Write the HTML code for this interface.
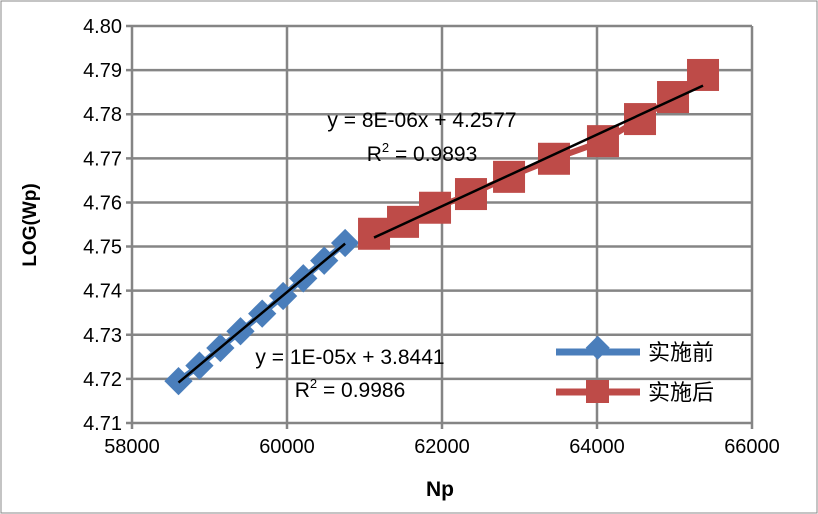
<!DOCTYPE html>
<html><head><meta charset="utf-8"><style>
body{margin:0;background:#fff;}
svg{display:block;font-family:"Liberation Sans","Noto Sans CJK SC",sans-serif;}
</style></head><body>
<svg id="chart" width="818" height="514">
<rect x="1" y="1" width="816" height="512" fill="#fff" stroke="#888"/>
<g id="grid"></g><g id="axes"></g><g id="marks"></g>
<text x="440" y="496" font-size="21" font-weight="bold" text-anchor="middle">Np</text>
<text transform="translate(36,225) rotate(-90)" font-size="19" font-weight="bold" text-anchor="middle">LOG(Wp)</text>
<text x="422" y="127" font-size="21" text-anchor="middle">y = 8E-06x + 4.2577</text>
<text x="422" y="161" font-size="21" text-anchor="middle">R<tspan font-size="13" dy="-9">2</tspan><tspan dy="9"> = 0.9893</tspan></text>
<text x="350" y="364" font-size="21" text-anchor="middle">y = 1E-05x + 3.8441</text>
<text x="350" y="397" font-size="21" text-anchor="middle">R<tspan font-size="13" dy="-9">2</tspan><tspan dy="9"> = 0.9986</tspan></text>
<g>
<line x1="556" y1="352" x2="640" y2="352" stroke="#4a7ebb" stroke-width="7"/>
<rect x="586" y="340" width="17" height="17" fill="#4a7ebb" transform="rotate(45 597 352)"/>
<text x="648" y="360" font-size="22">实施前</text>
<line x1="556" y1="392" x2="640" y2="392" stroke="#be4b48" stroke-width="7"/>
<rect x="586" y="380" width="23" height="23" fill="#be4b48"/>
<text x="648" y="400" font-size="22">实施后</text>
</g>
</svg>
<script>
const blueX=[58600,58870,59140,59400,59680,59950,60210,60480,60750];
const blueY=[4.7195,4.7230,4.7270,4.7308,4.7348,4.7388,4.7428,4.7468,4.7508];
const redX=[61123,61497,61910,62374,62865,63445,64077,64555,64981,65368];
const redY=[4.7529,4.7556,4.7588,4.7619,4.7658,4.7699,4.7739,4.7789,4.7839,4.7889];
const xTicks=[58000,60000,62000,64000,66000];
const yTicks=[4.71,4.72,4.73,4.74,4.75,4.76,4.77,4.78,4.79,4.80];
const NS="http://www.w3.org/2000/svg";
const X0=132,X1=752,Y0=423,Y1=26;
function sx(v){return X0+(v-58000)/8000*(X1-X0);}
function sy(v){return Y0-(v-4.71)/0.09*(Y0-Y1);}
function mk(t,a,p){const e=document.createElementNS(NS,t);for(const k in a)e.setAttribute(k,a[k]);document.getElementById(p).appendChild(e);return e;}
yTicks.forEach(t=>{
 const l=mk('line',{x1:X0-6,x2:X1,y1:sy(t),y2:sy(t),stroke:'#858585','stroke-width':2.5},'grid');
 
 
 const tx=mk('text',{x:X0-10,y:sy(t)+7,'font-size':20,'text-anchor':'end'},'axes');
 tx.textContent=t.toFixed(2);
 
 
});
xTicks.forEach(t=>{
 const l=mk('line',{x1:sx(t),x2:sx(t),y1:Y1,y2:Y0+6,stroke:'#858585','stroke-width':2.5},'grid');
 
 
 const tx=mk('text',{x:sx(t),y:Y0+30,'font-size':20,'text-anchor':'middle'},'axes');
 tx.textContent=t;
 
 
});
function fit(xs,ys){const n=xs.length;let mx=0,my=0;xs.forEach((x,i)=>{mx+=x;my+=ys[i];});mx/=n;my/=n;let a=0,b=0;xs.forEach((x,i)=>{a+=(x-mx)*(ys[i]-my);b+=(x-mx)*(x-mx);});const s=a/b;return [s,my-s*mx];}
function series(xs,ys,col,shape,name){
 const p=mk('polyline',{points:xs.map((x,i)=>sx(x)+','+sy(ys[i])).join(' '),fill:'none',stroke:col,'stroke-width':6},'marks');
 
 
 xs.forEach((x,i)=>{
  const cx=sx(x),cy=sy(ys[i]);let m;
  if(shape==='d'){m=mk('rect',{x:cx-10,y:cy-10,width:20,height:20,fill:col,transform:'rotate(45 '+cx+' '+cy+')'},'marks');}
  else{m=mk('rect',{x:cx-16,y:cy-16,width:32,height:32,fill:col},'marks');}
  
  
 });
 const [s,b]=fit(xs,ys);const xa=xs[0],xb=xs[xs.length-1];
 const t=mk('line',{x1:sx(xa),y1:sy(s*xa+b),x2:sx(xb),y2:sy(s*xb+b),stroke:'#000','stroke-width':2.5},'marks');
 
 
}
series(blueX,blueY,'#4a7ebb','d','before');
series(redX,redY,'#be4b48','s','after');
</script>
</body></html>
